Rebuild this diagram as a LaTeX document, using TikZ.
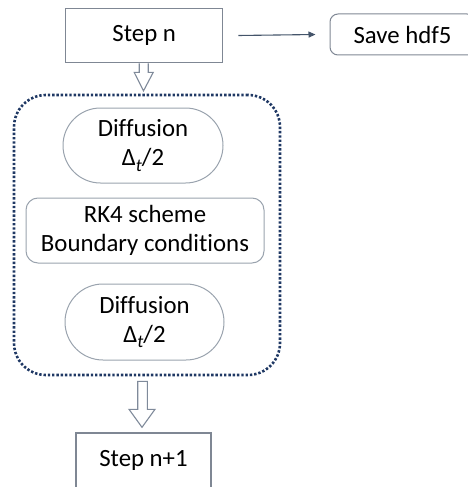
\documentclass[tikz,border=0pt]{standalone}
\usepackage{fontspec}
\setmainfont{Carlito}[Ligatures=NoCommon]
\usetikzlibrary{calc,arrows.meta}
\definecolor{boxgray}{HTML}{7F8794}
\definecolor{stadgray}{HTML}{9AA3AE}
\definecolor{arrowblue}{HTML}{44546A}
\definecolor{hollowgray}{HTML}{7F8A9A}
\definecolor{navy}{HTML}{1F3864}
\newcommand{\halfdt}{Δ\raisebox{-0.22em}{\fontsize{18}{18}\selectfont\itshape t}/2}
\tikzset{
  sqbox/.style={draw=boxgray, line width=1.3pt, inner sep=0pt, align=center},
  rbox/.style={draw=boxgray, line width=1pt, inner sep=0pt, align=center},
  stad/.style={draw=stadgray, line width=1pt, inner sep=0pt, align=center},
  dotbox/.style={draw=navy, line width=2.6pt, dash pattern=on 2.4pt off 1.9pt, rounded corners=32pt, inner sep=0pt},
  link/.style={draw=arrowblue, line width=1.1pt, -{Triangle[length=7pt,width=6pt]}},
  hollow/.style={draw=hollowgray, line width=1.1pt, fill=white, line join=miter}
}
\begin{document}
\begin{tikzpicture}[x=1pt,y=-1pt, font=\fontsize{24.8}{29}\selectfont]
\useasboundingbox (0,0) rectangle (468,487);
\clip (0,0) rectangle (468,487);
\node[sqbox, minimum width=157pt, minimum height=54.5pt] (stepn) at (144.2,35.5) {Step n};
\node[rbox, minimum width=145pt, minimum height=41pt, rounded corners=8pt] (save) at (402.5,34.5) {Save hdf5};
\node[dotbox, minimum width=266pt, minimum height=280pt] (group) at (147,235) {};
\node[stad, minimum width=160pt, minimum height=75pt, rounded corners=37.5pt] (d1) at (143,145.5) {Diffusion\\\halfdt};
\node[rbox, minimum width=238pt, minimum height=65pt, rounded corners=12pt, draw=stadgray] (rk4) at (145,230.5) {RK4 scheme\\Boundary conditions};
\node[stad, minimum width=159pt, minimum height=76pt, rounded corners=38pt] (d2) at (144.5,322) {Diffusion\\\halfdt};
\node[sqbox, minimum width=135pt, minimum height=55pt] (stepn1) at (143.5,460.5) {Step n+1};
\draw[link] ([xshift=15pt]stepn.east) -- ([xshift=-14pt]save.west);
% hollow arrow 1
\draw[hollow] ($(stepn.south)+(-5,0)$) -- ($(stepn.south)+(-5,9)$) -- ($(stepn.south)+(-10,9)$)
  -- ($(stepn.south)+(-0.7,27.5)$) -- ($(stepn.south)+(9,9)$) -- ($(stepn.south)+(4,9)$) -- ($(stepn.south)+(4,0)$);
% hollow arrow 2
\draw[hollow] ($(group.south)+(-9.3,5)$) -- ($(group.south)+(-9.3,33)$) -- ($(group.south)+(-18,33)$)
  -- ($(group.south)+(-5,51)$) -- ($(group.south)+(8,33)$) -- ($(group.south)+(0.3,33)$) -- ($(group.south)+(0.3,5)$) -- cycle;
\end{tikzpicture}
\end{document}
